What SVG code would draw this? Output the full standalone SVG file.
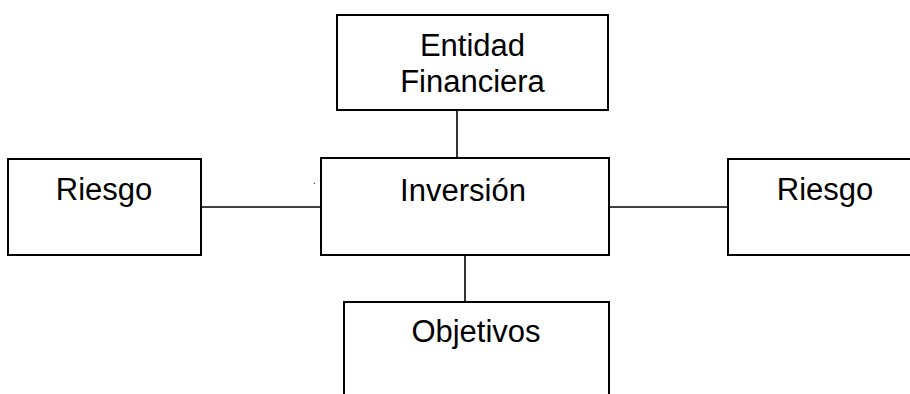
<svg xmlns="http://www.w3.org/2000/svg" width="910" height="394" viewBox="0 0 910 394">
<style>
.box{fill:#fff;stroke:#000;stroke-width:2}
.ln{stroke:#000;stroke-width:1.6;fill:none}
.t{font-family:"Liberation Sans",Arial,sans-serif;font-size:31px;fill:#000;text-anchor:middle}
</style>
<rect width="910" height="394" fill="#fff"/>
<g id="connectors">
<line class="ln" x1="457" y1="110" x2="457" y2="158"/>
<line class="ln" x1="465" y1="255" x2="465" y2="302"/>
<line class="ln" x1="201" y1="207" x2="321" y2="207"/>
<line class="ln" x1="609" y1="207" x2="728" y2="207"/>
</g>
<g id="entidad">
<rect class="box" x="337" y="15" width="271" height="95"/>
<text class="t" x="472.5" y="56">Entidad</text>
<text class="t" x="472.5" y="92">Financiera</text>
</g>
<g id="inversion">
<rect class="box" x="321" y="158" width="288" height="97"/>
<text class="t" x="463" y="201">Inversión</text>
</g>
<g id="riesgo-izq">
<rect class="box" x="8" y="159" width="193" height="96"/>
<text class="t" x="104" y="200">Riesgo</text>
</g>
<g id="riesgo-der">
<path class="box" d="M915,159 H728 V255 H915"/>
<text class="t" x="825" y="200">Riesgo</text>
</g>
<g id="objetivos">
<path class="box" d="M344,400 V302 H609 V400"/>
<text class="t" x="476" y="342">Objetivos</text>
</g>
<text x="313" y="184" font-family="Liberation Sans, Arial, sans-serif" font-size="10" fill="#000">.</text>
</svg>
